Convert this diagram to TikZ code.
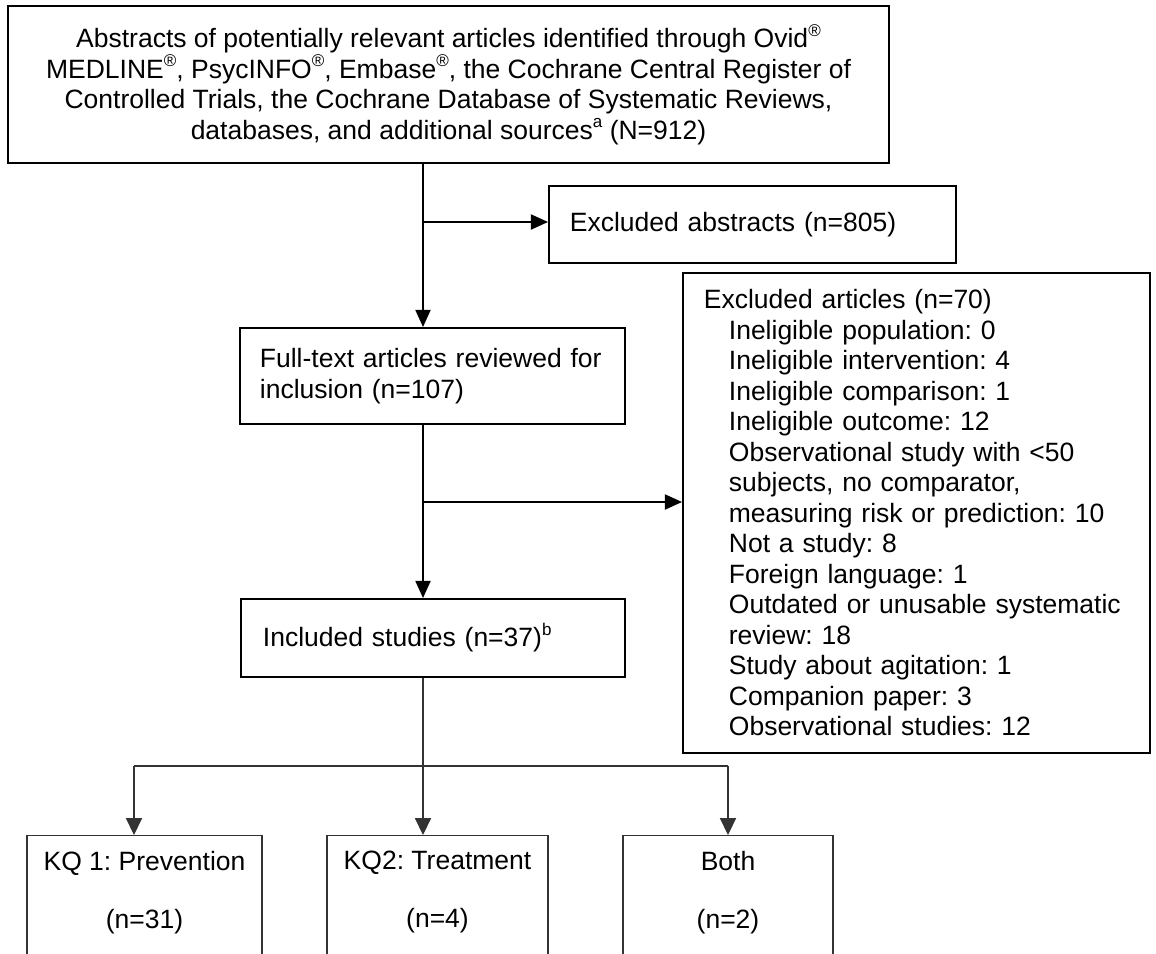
\documentclass[tikz,border=0pt]{standalone}
\usepackage{fontspec}
\setmainfont{Liberation Sans}
\usetikzlibrary{positioning,arrows.meta}
\frenchspacing
\newcommand{\exindent}{\hspace*{12.5pt}}
\newcommand{\supmark}[1]{\raisebox{0.42em}{\fontsize{8.5}{8.5}\selectfont #1}}

\begin{document}
\begin{tikzpicture}[x=0.5pt,y=-0.5pt,
  every node/.style={font=\fontsize{13.25}{15.25}\selectfont},
  flowbox/.style={draw,line width=0.9pt,inner ysep=0pt,align=left},
  kqbox/.style={draw=black!80,line width=0.6pt,anchor=north,minimum height=82.5pt},
  kqlabel/.style={inner sep=0pt,align=center},
  arr/.style={line width=0.8pt,-{Triangle[length=8.6pt,width=7.6pt]}},
  thinline/.style={line width=0.6pt,draw=black!80},
  thinarr/.style={thinline,-{Triangle[length=8.4pt,width=8pt]}}]
\useasboundingbox (0,0) rectangle (1156,953);
\clip (0,0) rectangle (1156,953);
% screening boxes
\node[flowbox,align=center,minimum width=440.5pt,minimum height=78.5pt] (src) at (448.5,84.5)
  {Abstracts of potentially relevant articles identified through Ovid\supmark{®}\\
   MEDLINE\supmark{®}, PsycINFO\supmark{®}, Embase\supmark{®}, the Cochrane Central Register of\\
   Controlled Trials, the Cochrane Database of Systematic Reviews,\\
   databases, and additional sources\supmark{a} (N=912)};
\node[flowbox,anchor=north west,inner xsep=10.5pt,text width=182.5pt,minimum height=38.5pt] (exabs) at (548,185)
  {Excluded abstracts (n=805)};
\node[flowbox,anchor=north west,inner xsep=10pt,text width=172.5pt,minimum height=48pt] (fulltext) at (239,327)
  {Full-text articles reviewed for\\inclusion (n=107)};
\node[flowbox,anchor=north west,inner xsep=10.5pt,text width=212.5pt,minimum height=240pt] (exart) at (682,272)
  {Excluded articles (n=70)\\
   \exindent Ineligible population: 0\\
   \exindent Ineligible intervention: 4\\
   \exindent Ineligible comparison: 1\\
   \exindent Ineligible outcome: 12\\
   \exindent Observational study with <50\\
   \exindent subjects, no comparator,\\
   \exindent measuring risk or prediction: 10\\
   \exindent Not a study: 8\\
   \exindent Foreign language: 1\\
   \exindent Outdated or unusable systematic\\
   \exindent review: 18\\
   \exindent Study about agitation: 1\\
   \exindent Companion paper: 3\\
   \exindent Observational studies: 12};
\node[flowbox,anchor=north west,inner xsep=11pt,text width=170pt,minimum height=39pt] (included) at (240,598)
  {Included studies (n=37)\supmark{b}};
% key questions (cut off at the bottom)
\node[kqbox,minimum width=117.5pt] (kq1) at (144.5,835) {};
\node[kqbox,minimum width=110.5pt] (kq2) at (437.5,835) {};
\node[kqbox,minimum width=105pt] (both) at (728,835) {};
\node[kqlabel,below=7.75pt of kq1.north] (kq1txt) {KQ 1: Prevention\\[13.75pt](n=31)};
\node[kqlabel,below=7.75pt of kq2.north] (kq2txt) {KQ2: Treatment\\[13.75pt](n=4)};
\node[kqlabel,below=7.75pt of both.north] (bothtxt) {Both\\[13.75pt](n=2)};
% connectors
\coordinate (trunk) at (423,0);
\coordinate (split1) at (423,222);
\coordinate (split2) at (423,502);
\coordinate (forkL) at (134,766);
\coordinate (forkR) at (728,766);
\draw[arr] (src.south -| trunk) -- (fulltext.north -| trunk);
\draw[arr] (split1) -- (split1 -| exabs.west);
\draw[arr] (fulltext.south -| trunk) -- (included.north -| trunk);
\draw[arr] (split2) -- (split2 -| exart.west);
\draw[thinarr] (included.south -| trunk) -- (kq2.north -| trunk);
\draw[thinline] (forkL) -- (forkR);
\draw[thinarr] (forkL) -- (forkL |- kq1.north);
\draw[thinarr] (forkR) -- (both.north);
\end{tikzpicture}
\end{document}
